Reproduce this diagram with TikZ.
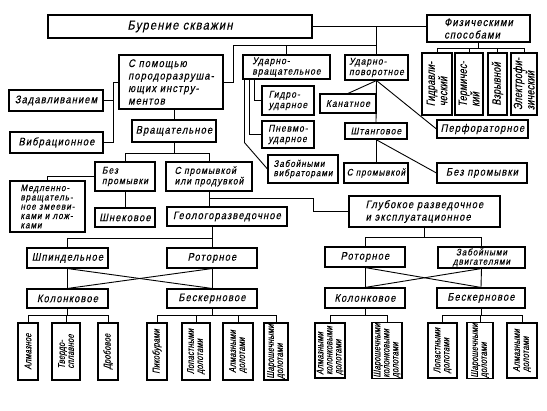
\documentclass[tikz,border=0pt]{standalone}
\usepackage{fontspec}
\newfontfamily\dfont{Liberation Sans}[FakeStretch=0.85,FakeSlant=0.2,LetterSpace=10,FakeBold=0.3]
\newfontfamily\vfont{Liberation Sans}[FakeStretch=0.75,FakeSlant=0.2,LetterSpace=2,FakeBold=0.3]
\newcommand\FntA{\dfont\fontsize{11}{12.5}\selectfont}
\newcommand\FntM{\dfont\fontsize{10}{10.5}\selectfont}
\newcommand\FntS{\dfont\fontsize{9.5}{9.3}\selectfont}
\newcommand\FntV{\vfont\fontsize{10}{9}\selectfont}
\newcommand\FntP{\vfont\fontsize{12}{11}\selectfont}
\newcommand\FntB{\dfont\fontsize{13}{15}\selectfont}
\tikzset{
  bx/.style={draw, line width=1.1pt, inner sep=1pt, font=\FntA, align=center},
  vb/.style={bx, rotate=90, font=\FntV, align=left, inner sep=0.5pt},
  ln/.style={line width=0.9pt}
}
\newcommand\BX[7][]{%
  \pgfmathsetmacro\bxw{#5-#3}%
  \pgfmathsetmacro\bxh{#6-#4}%
  \node[bx, minimum width=\bxw pt, minimum height=\bxh pt, #1] (#2) at ({(#3+#5)/2},{(#4+#6)/2}) {#7};}
\newcommand\VB[7][]{%
  \pgfmathsetmacro\bxw{#6-#4}%
  \pgfmathsetmacro\bxh{#5-#3}%
  \node[vb, minimum width=\bxw pt, minimum height=\bxh pt, #1] (#2) at ({(#3+#5)/2},{(#4+#6)/2}) {#7};}
\begin{document}
\begin{tikzpicture}[x=1pt,y=-1pt]
\useasboundingbox (0,0) rectangle (547,411);
% top
\BX[font=\FntB]{bur}{48}{15}{312}{38}{Бурение скважин}
\BX[align=left]{fiz}{427}{15}{530}{42}{Физическими\\способами}
\VB[font=\FntP]{gidr}{422}{53}{452}{115}{Гидравли-\\ческий}
\VB[font=\FntP]{term}{455}{53}{483}{115}{Термичес-\\кий}
\VB[font=\FntP]{vzr}{488}{53}{507}{115}{Взрывной}
\VB[font=\FntP]{elek}{511}{53}{537}{115}{Электрофи-\\зический}
% left column
\BX[align=left]{pom}{119}{55}{223}{109}{С помощью\\породоразруша-\\ющих инстру-\\ментов}
\BX{zad}{9}{90}{103}{111}{Задавливанием}
\BX{vib}{10}{132}{103}{153}{Вибрационное}
\BX{vr}{132}{120}{216}{142}{Вращательное}
\BX[align=left,font=\FntM]{bez}{95}{162}{155}{191}{Без\\промывки}
\BX[align=left,font=\FntM]{spr}{166}{162}{252}{191}{С промывкой\\или продувкой}
\BX[align=left,font=\FntS]{med}{10}{181}{85}{232}{Медленно-\\вращатель-\\ное змееви-\\ками и лож-\\ками}
\BX{shn}{95}{208}{155}{227}{Шнековое}
\BX{geo}{167}{207}{287}{226}{Геологоразведочное}
\BX[align=left]{glu}{349}{196}{500}{227}{Глубокое разведочное\\и эксплуатационное}
% middle upper
\BX[align=left,font=\FntM]{udv}{243}{55}{330}{79}{Ударно-\\вращательное}
\BX[align=left,font=\FntM]{udp}{345}{55}{408}{80}{Ударно-\\поворотное}
\BX[align=left,font=\FntM]{gid}{262}{86}{314}{115}{Гидро-\\ударное}
\BX[align=left,font=\FntM]{pnev}{262}{121}{314}{148}{Пневмо-\\ударное}
\BX[align=left,font=\FntS]{zvb}{268}{155}{338}{183}{Забойными\\вибраторами}
\BX[font=\FntM]{kan}{320}{94}{376}{113}{Канатное}
\BX[font=\FntM]{sht}{345}{123}{407}{139}{Штанговое}
\BX{perf}{437}{120}{528}{138}{Перфораторное}
\BX[font=\FntS]{spr2}{344}{163}{408}{183}{С промывкой}
\BX{bpr}{437}{163}{527}{183}{Без промывки}
% lower left
\BX{shp}{27}{248}{108}{268}{Шпиндельное}
\BX{rotL}{167}{248}{257}{268}{Роторное}
\BX{kolL}{27}{289}{108}{308}{Колонковое}
\BX{besL}{167}{289}{257}{308}{Бескерновое}
\VB{almL}{18}{323}{38}{380}{Алмазное}
\VB{tvL}{52}{323}{80}{380}{Твердо-\\сплавное}
\VB{drL}{98}{323}{118}{380}{Дробовое}
\VB{pik}{147}{323}{167}{380}{Пикобурами}
\VB{lopL}{182}{323}{210}{380}{Лопастными\\долотами}
\VB{almL2}{223}{323}{253}{380}{Алмазными\\долотами}
\VB{sharL}{264}{323}{288}{380}{Шарошечными\\долотами}
% lower right
\BX{rotR}{325}{247}{405}{267}{Роторное}
\BX[font=\FntS]{zab}{438}{247}{525}{268}{Забойными\\двигателями}
\BX{kolR}{325}{288}{405}{308}{Колонковое}
\BX{besR}{437}{288}{525}{308}{Бескерновое}
\VB{almR}{315}{323}{345}{378}{Алмазными\\колонковыми\\долотами}
\VB{sharR}{372}{323}{402}{378}{Шарошечными\\колонковыми\\долотами}
\VB{lopR}{428}{323}{457}{378}{Лопастными\\долотами}
\VB{sharR2}{467}{323}{493}{378}{Шарошечными\\долотами}
\VB{almR2}{507}{323}{537}{378}{Алмазными\\долотами}
% coordinates for buses
\coordinate (bA) at (233,45);
\coordinate (bB) at (113,0);
\coordinate (bC) at (0,153);
\coordinate (bD) at (313,198);
\coordinate (bE) at (0,238);
\coordinate (bF) at (0,315);
\coordinate (bG) at (0,237);
\coordinate (bH) at (0,48);
% connectors top
\draw[ln] (bur.east) -- (bur.east -| fiz.west);
\draw[ln] (udp.north) -- (udp.north |- bur.east);
\draw[ln] (bA) -- (bA -| udp.north);
\draw[ln] (udv.north) -- (udv.north |- bA);
\draw[ln] (pom.east) -| (bA);
\draw[ln] (fiz.south) -- (fiz.south |- bH);
\draw[ln] (gidr.east) -- (gidr.east |- bH) -- (elek.east |- bH) -- (elek.east);
\draw[ln] (term.east) -- (term.east |- bH);
\draw[ln] (vzr.east) -- (vzr.east |- bH);
% left
\draw[ln] (pom.west) -- (pom.west -| bB) |- (vib.east);
\draw[ln] (zad.east) -- (zad.east -| bB);
\draw[ln] (vr.north) -- (vr.north |- pom.south);
\draw[ln] (vr.south) -- (vr.south |- bC);
\draw[ln] (bez.north) -- (bez.north |- bC) -- (spr.north |- bC) -- (spr.north);
\draw[ln] (bez.west) -| (med.north);
\draw[ln] (bez.south) -- (shn.north);
\draw[ln] (spr.south) -- (spr.south |- geo.north);
\draw[ln] (spr.south |- bD) -- (bD) |- (glu.west);
% udarno
\draw[ln] ([xshift=12pt]udv.south west) |- (gid.west);
\draw[ln] ([xshift=7pt]udv.south west) |- (pnev.west);
\draw[ln] ([xshift=2pt]udv.south west) -- ([xshift=2pt,yshift=-63pt]udv.south west) -- (zvb.west);
\draw[ln] (udp.south) -- (kan.north);
\draw[ln] (udp.south) -- (sht.north);
\draw[ln] (udp.south) -- (perf.west);
\draw[ln] (sht.south) -- (spr2.north);
\draw[ln] (sht.south) -- (bpr.west);
% geolog
\draw[ln] (rotL.north) -- (rotL.north |- geo.south);
\draw[ln] (shp.north) -- (shp.north |- bE) -- (rotL.north |- bE);
\draw[ln] (shp.south) -- (kolL.north);
\draw[ln] (rotL.south) -- (besL.north);
\draw[ln] (shp.south) -- (besL.north);
\draw[ln] (rotL.south) -- (kolL.north);
\draw[ln] (kolL.south) -- (kolL.south |- bF);
\draw[ln] (almL.east) -- (almL.east |- bF) -- (drL.east |- bF) -- (drL.east);
\draw[ln] (tvL.east) -- (tvL.east |- bF);
\draw[ln] (besL.south) -- (besL.south |- bF);
\draw[ln] (pik.east) -- (pik.east |- bF) -- (sharL.east |- bF) -- (sharL.east);
\draw[ln] (lopL.east) -- (lopL.east |- bF);
\draw[ln] (almL2.east) -- (almL2.east |- bF);
% deep
\draw[ln] (glu.south) -- (glu.south |- bG);
\draw[ln] (rotR.north) -- (rotR.north |- bG) -- (zab.north |- bG) -- (zab.north);
\draw[ln] (rotR.south) -- (kolR.north);
\draw[ln] (zab.south) -- (besR.north);
\draw[ln] (rotR.south) -- (besR.north);
\draw[ln] (zab.south) -- (kolR.north);
\draw[ln] (kolR.south) -- (kolR.south |- bF);
\draw[ln] (almR.east) -- (almR.east |- bF) -- (sharR.east |- bF) -- (sharR.east);
\draw[ln] (besR.south) -- (besR.south |- bF);
\draw[ln] (lopR.east) -- (lopR.east |- bF) -- (almR2.east |- bF) -- (almR2.east);
\draw[ln] (sharR2.east) -- (sharR2.east |- bF);
\end{tikzpicture}
\end{document}
